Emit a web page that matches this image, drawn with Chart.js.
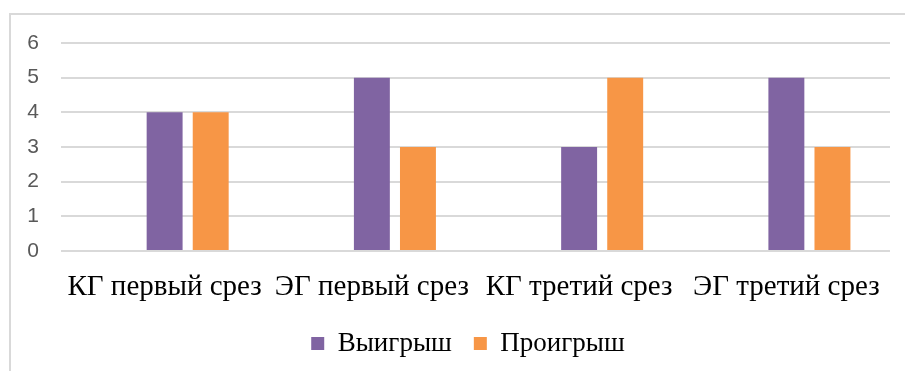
<!DOCTYPE html>
<html>
<head>
<meta charset="utf-8">
<script src="https://cdn.jsdelivr.net/npm/chart.js@4"></script>
<style>
  html, body { margin: 0; padding: 0; background: #fff; overflow: hidden; }
  #frame {
    position: absolute; left: 9px; top: 13px;
    width: 1000px; height: 1000px;
    border: 2px solid #d9d9d9;
  }
  #wrap { position: absolute; left: 0; top: 0; width: 905px; height: 371px; }
</style>
</head>
<body>
<div id="frame"></div>
<div id="wrap"><canvas id="resultsChart"></canvas></div>
<script>
const groups = ["КГ первый срез", "ЭГ первый срез", "КГ третий срез", "ЭГ третий срез"];
const wins = [4, 5, 3, 5];
const losses = [4, 3, 5, 3];
const empty = [null, null, null, null]; // unused first series slot
const yTicks = [0, 1, 2, 3, 4, 5, 6];

const purple = "#8064A2";
const orange = "#F79646";
const serif = "'Liberation Serif', 'Times New Roman', serif";

Chart.defaults.font.family = serif;

// the frame runs past the right edge, so the legend sits a bit right of centre
const legendShift = {
  id: "legendShift",
  afterLayout(chart) {
    chart.legend.left += 23;
    chart.legend.right += 23;
  }
};

const chart = new Chart(document.getElementById("resultsChart"), {
  type: "bar",
  data: {
    labels: groups,
    datasets: [
      { label: "", data: empty, backgroundColor: "rgba(0,0,0,0)" },
      { label: "Выигрыш", data: wins, backgroundColor: purple },
      { label: "Проигрыш", data: losses, backgroundColor: orange }
    ]
  },
  plugins: [legendShift],
  options: {
    responsive: true,
    maintainAspectRatio: false,
    animation: false,
    categoryPercentage: 0.667,
    barPercentage: 0.78,
    layout: { padding: { left: 0, right: 15, top: 43, bottom: 4 } },
    plugins: {
      tooltip: { enabled: false },
      legend: {
        position: "bottom",
        labels: {
          filter: item => item.text !== "",
          color: "#000",
          font: { family: serif, size: 27 },
          boxWidth: 13,
          boxHeight: 13,
          padding: 22
        }
      }
    },
    scales: {
      x: {
        grid: { display: false },
        border: { display: false },
        ticks: {
          color: "#000",
          font: { family: serif, size: 29 },
          padding: 11,
          maxRotation: 0,
          autoSkip: false
        },
        afterFit: scale => { scale.height = 57; }
      },
      y: {
        min: 0,
        max: 6,
        afterBuildTicks: scale => { scale.ticks = yTicks.map(v => ({ value: v })); },
        grid: { color: "#d9d9d9", lineWidth: 2, drawTicks: false },
        border: { display: false },
        ticks: {
          color: "#595959",
          font: { family: "'Liberation Sans', Arial, sans-serif", size: 21 },
          padding: 22
        },
        afterFit: scale => { scale.width = 61; }
      }
    }
  }
});
</script>
</body>
</html>
